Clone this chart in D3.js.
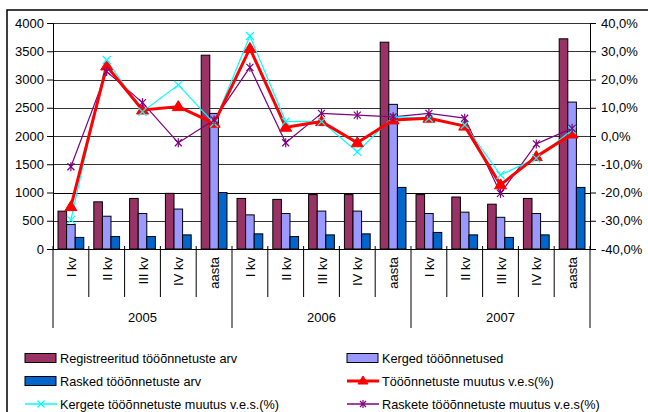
<!DOCTYPE html>
<head>
  <meta charset="utf-8">
  <script src="https://d3js.org/d3.v7.min.js"></script>
  <style>
    body { margin: 0; background: #fff; }
    text { font-family: Arial, "Liberation Sans", sans-serif; font-size: 13px; fill: #000; }
  </style>
</head>
<body>
  <div id="graph"></div>
  <script>
    // data
    var years = ["2005", "2006", "2007"];
    var periods = ["I kv", "II kv", "III kv", "IV kv", "aasta"];
    var registered = [670, 835, 895, 985, 3430, 895, 878, 963, 963, 3660, 963, 920, 793, 895, 3720];
    var light = [433, 580, 628, 707, 2400, 604, 628, 671, 671, 2560, 628, 652, 561, 628, 2600];
    var severe = [205, 220, 220, 250, 1000, 268, 220, 250, 268, 1090, 293, 250, 205, 250, 1090];
    var totalChange = [-25.0, 24.8, 9.2, 10.4, 4.5, 31.0, 3.1, 5.1, -2.4, 5.7, 6.3, 3.5, -17.3, -7.3, 0.7];
    var lightChange = [-29.7, 26.9, 8.6, 18.1, 4.5, 35.4, 5.1, 5.1, -5.6, 6.8, 6.3, 3.9, -13.8, -7.9, 2.1];
    var severeChange = [-10.9, 22.8, 11.8, -2.4, 5.7, 24.3, -2.4, 8.0, 7.4, 6.8, 8.0, 6.3, -20.3, -2.8, 2.7];
    var leftTicks = [0, 500, 1000, 1500, 2000, 2500, 3000, 3500, 4000];
    var rightTicks = [-40, -30, -20, -10, 0, 10, 20, 30, 40];

    var width = 648, height = 412;
    var plotLeft = 53, plotRight = 590, plotTop = 23, plotBottom = 249;

    var svg = d3.select("#graph").append("svg")
      .attr("width", width)
      .attr("height", height);

    // outer frame
    svg.append("rect")
      .attr("x", 7).attr("y", 10)
      .attr("width", 660).attr("height", 420)
      .attr("fill", "none").attr("stroke", "#000").attr("stroke-width", 1.5);

    var cats = d3.range(registered.length);
    var x = d3.scaleBand().domain(cats).range([plotLeft, plotRight]);
    var xi = d3.scaleBand().domain([0, 1, 2]).range([0, x.bandwidth() * 0.72]);
    var y = d3.scaleLinear().domain([0, 4000]).range([plotBottom, plotTop]);
    var y2 = d3.scaleLinear().domain([-40, 40]).range([plotBottom, plotTop]);

    // gridlines
    svg.append("g").selectAll("line")
      .data(leftTicks.filter(d => d > 0)).enter()
      .append("line")
      .attr("x1", plotLeft).attr("x2", plotRight)
      .attr("y1", d => Math.round(y(d)) + 0.5).attr("y2", d => Math.round(y(d)) + 0.5)
      .attr("stroke", d => d == 1000 ? "#000" : "#333")
      .attr("stroke-width", 1);

    // bars
    var series = [
      { values: registered, color: "#993366" },
      { values: light, color: "#9999FF" },
      { values: severe, color: "#0066CC" }
    ];
    var off = x.bandwidth() * 0.14;
    series.forEach(function(s, k) {
      svg.append("g").selectAll("rect")
        .data(s.values).enter()
        .append("rect")
        .attr("x", (d, i) => x(i) + off + xi(k))
        .attr("y", d => y(d))
        .attr("width", xi.bandwidth())
        .attr("height", d => plotBottom - y(d))
        .attr("fill", s.color)
        .attr("stroke", "#000")
        .attr("stroke-width", 1);
    });

    // left axis
    var yAxis = d3.axisLeft(y).tickValues(leftTicks).tickSize(6).tickPadding(3).tickFormat(d3.format("d"));
    var gl = svg.append("g").attr("transform", "translate(" + plotLeft + ",0)").call(yAxis);
    // right axis
    var yAxis2 = d3.axisRight(y2).tickValues(rightTicks).tickSize(6).tickPadding(5)
      .tickFormat(d => d.toFixed(1).replace(".", ",") + "%");
    var gr = svg.append("g").attr("transform", "translate(" + plotRight + ",0)").call(yAxis2);
    [gl, gr].forEach(function(g) {
      g.selectAll("path").attr("stroke", "#000");
      g.selectAll("line").attr("stroke", "#000");
      g.selectAll("text").style("font-size", "13px").attr("font-family", "Arial, 'Liberation Sans', sans-serif");
    });

    // x axis line + category separators
    svg.append("line")
      .attr("x1", plotLeft).attr("x2", plotRight)
      .attr("y1", plotBottom + 0.5).attr("y2", plotBottom + 0.5)
      .attr("stroke", "#000");
    svg.append("g").selectAll("line")
      .data(d3.range(registered.length + 1)).enter()
      .append("line")
      .attr("x1", i => plotLeft + i * x.step()).attr("x2", i => plotLeft + i * x.step())
      .attr("y1", plotBottom - 3)
      .attr("y2", i => i % 5 == 0 ? 328 : 297)
      .attr("stroke", "#000");

    // category labels (rotated)
    svg.append("g").selectAll("text")
      .data(cats).enter()
      .append("text")
      .attr("transform", i => "translate(" + (x(i) + x.bandwidth() / 2 + 5) + ",257) rotate(-90)")
      .attr("text-anchor", "end")
      .text(i => periods[i % 5]);

    // year labels
    svg.append("g").selectAll("text")
      .data(years).enter()
      .append("text")
      .attr("x", (d, j) => plotLeft + (j * 5 + 2.5) * x.step())
      .attr("y", 322)
      .attr("text-anchor", "middle")
      .text(d => d);

    // change lines
    var cx = i => x(i) + x.bandwidth() / 2;
    function drawLine(values, color, w) {
      var line = d3.line().x((d, i) => cx(i)).y(d => y2(d));
      svg.append("path").datum(values)
        .attr("d", line)
        .attr("fill", "none")
        .attr("stroke", color)
        .attr("stroke-width", w)
        .attr("stroke-linejoin", "round");
    }
    function xMark(g, px, py, color, r) {
      g.append("path")
        .attr("d", "M" + (px - r) + "," + (py - r) + "L" + (px + r) + "," + (py + r) +
          "M" + (px - r) + "," + (py + r) + "L" + (px + r) + "," + (py - r))
        .attr("stroke", color).attr("stroke-width", 1.2);
    }
    function starMark(g, px, py, color, r) {
      xMark(g, px, py, color, r);
      g.append("path")
        .attr("d", "M" + px + "," + (py - r - 1) + "L" + px + "," + (py + r + 1))
        .attr("stroke", color).attr("stroke-width", 1.2);
    }
    function triMark(g, px, py, color, r) {
      g.append("path")
        .attr("d", "M" + px + "," + (py - r - 1) + "L" + (px + r + 1) + "," + (py + r - 1) + "L" + (px - r - 1) + "," + (py + r - 1) + "Z")
        .attr("fill", color).attr("stroke", color);
    }

    drawLine(severeChange, "#800080", 1.2);
    drawLine(lightChange, "#00FFFF", 1.2);
    drawLine(totalChange, "#FF0000", 3);
    var gm = svg.append("g");
    totalChange.forEach((d, i) => triMark(gm, cx(i), y2(d), "#FF0000", 5));
    lightChange.forEach((d, i) => xMark(gm, cx(i), y2(d), "#00FFFF", 4));
    severeChange.forEach((d, i) => starMark(gm, cx(i), y2(d), "#800080", 3.5));

    // legend
    var legend = [
      { label: "Registreeritud tööõnnetuste arv", type: "bar", color: "#993366", x: 25, y: 358 },
      { label: "Kerged tööõnnetused", type: "bar", color: "#9999FF", x: 347, y: 358 },
      { label: "Rasked tööõnnetuste arv", type: "bar", color: "#0066CC", x: 25, y: 381 },
      { label: "Tööõnnetuste muutus v.e.s(%)", type: "tri", color: "#FF0000", x: 347, y: 381 },
      { label: "Kergete tööõnnetuste muutus v.e.s.(%)", type: "x", color: "#00FFFF", x: 25, y: 404 },
      { label: "Raskete tööõnnetuste muutus v.e.s(%)", type: "star", color: "#800080", x: 347, y: 404 }
    ];
    var lg = svg.append("g");
    legend.forEach(function(d) {
      if (d.type == "bar") {
        lg.append("rect").attr("x", d.x).attr("y", d.y - 4.5)
          .attr("width", 31).attr("height", 9)
          .attr("fill", d.color).attr("stroke", "#000");
      } else {
        lg.append("line").attr("x1", d.x).attr("x2", d.x + 32)
          .attr("y1", d.y).attr("y2", d.y)
          .attr("stroke", d.color).attr("stroke-width", d.type == "tri" ? 3 : 1.5);
        if (d.type == "tri") triMark(lg, d.x + 16, d.y, d.color, 4);
        if (d.type == "x") xMark(lg, d.x + 16, d.y, d.color, 3.5);
        if (d.type == "star") starMark(lg, d.x + 16, d.y, d.color, 3);
      }
      lg.append("text").attr("x", d.x + 35).attr("y", d.y + 4.5).style("font-size", "12.7px").text(d.label);
    });
  </script>
</body>
